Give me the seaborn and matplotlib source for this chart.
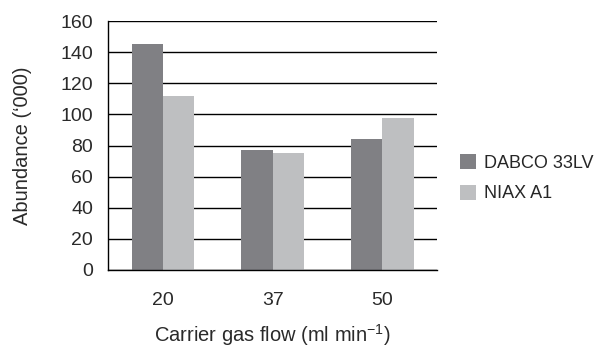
import seaborn as sns
import pandas as pd
import matplotlib.pyplot as plt
from matplotlib.patches import Patch

# values
flows = ["20", "37", "50"]
dabco = [145, 77, 84]
niax = [112, 75, 98]
series_names = ["DABCO 33LV", "NIAX A1"]
colors = {"DABCO 33LV": "#808084", "NIAX A1": "#bebfc1"}
y_ticks = [0, 20, 40, 60, 80, 100, 120, 140, 160]

df = pd.DataFrame({
    "flow": flows * 2,
    "value": dabco + niax,
    "series": [series_names[0]] * 3 + [series_names[1]] * 3,
})

sns.set_style("white")
plt.rcParams["font.family"] = ["Liberation Sans", "DejaVu Sans"]
plt.rcParams["mathtext.fontset"] = "custom"
plt.rcParams["mathtext.rm"] = "Liberation Sans"
plt.rcParams["mathtext.it"] = "Liberation Sans"
plt.rcParams["mathtext.default"] = "regular"
txt = "#2a2a2a"

fig = plt.figure(figsize=(5.98, 3.47), dpi=100)
ax = fig.add_axes([0.181, 0.222, 0.55, 0.717])

sns.barplot(data=df, x="flow", y="value", hue="series", order=flows,
            hue_order=series_names, palette=colors, width=0.57,
            saturation=1, linewidth=0, ax=ax, legend=False)

ax.set_ylim(0, 160)
ax.set_xlim(-0.5, 2.5)
ax.set_yticks(y_ticks)
ax.yaxis.grid(True, color="black", linewidth=1)
ax.set_axisbelow(True)

# category ticks at boundaries, labels in between
ax.set_xticks([-0.5, 0.5, 1.5, 2.5])
ax.set_xticklabels([])
ax.set_xticks([0, 1, 2], minor=True)
ax.set_xticklabels(flows, minor=True)
ax.tick_params(axis="x", which="major", length=7, width=1, color="black", direction="out")
ax.tick_params(axis="x", which="minor", length=0, pad=16)
ax.tick_params(axis="y", length=7, width=1, color="black", direction="out", pad=4)
ax.tick_params(which="both", labelsize=14, labelcolor=txt)

for side in ["top", "right"]:
    ax.spines[side].set_visible(False)
for side in ["left", "bottom"]:
    ax.spines[side].set_color("black")
    ax.spines[side].set_linewidth(1)

ax.set_ylabel("Abundance (\u2018000)", fontsize=14.5, color=txt, labelpad=20)
ax.set_xlabel("Carrier gas flow (ml min$^{-1}$)", fontsize=14.5, color=txt, labelpad=9)

handles = [Patch(facecolor=colors[s], edgecolor="none") for s in series_names]
fig.legend(handles, series_names, loc="center left", bbox_to_anchor=(0.757, 0.486),
           frameon=False, fontsize=13, handlelength=0.9, handleheight=0.9,
           labelspacing=0.7, handletextpad=0.45, borderaxespad=0)

plt.savefig("out.png", dpi=100)
